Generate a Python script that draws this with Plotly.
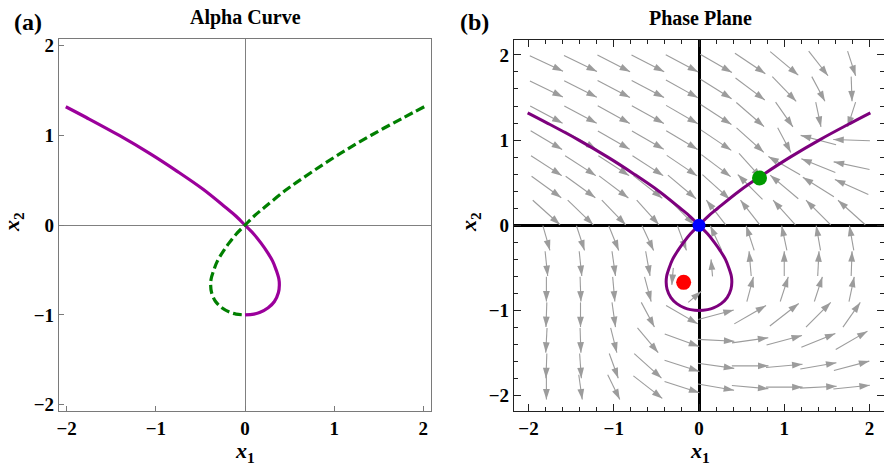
import math
import plotly.graph_objects as go

W, H = 884, 470

# ---------------- data ----------------
# alpha curve: x2 samples and the x1 value of each branch
curve_x2 = [1.32, 1.2, 1.0, 0.8, 0.6, 0.4, 0.2, 0.1, 0.0, -0.1, -0.2, -0.3, -0.4,
            -0.5, -0.6, -0.67, -0.75, -0.85, -0.92, -0.97, -0.99, -1.0]
purple_x1 = [-2.01, -1.78, -1.41, -1.07, -0.76, -0.47, -0.22, -0.1, 0.0, 0.1, 0.18,
             0.25, 0.31, 0.35, 0.38, 0.385, 0.375, 0.33, 0.26, 0.17, 0.1, 0.0]
green_x1 = [2.01, 1.78, 1.41, 1.07, 0.76, 0.47, 0.22, 0.1, 0.0, -0.1, -0.18,
            -0.25, -0.31, -0.35, -0.38, -0.385, -0.375, -0.33, -0.26, -0.17, -0.1, 0.0]

# equilibrium points in the phase plane
eq_x1 = [0.0, 0.71, -0.18]
eq_x2 = [0.0, 0.555, -0.67]
eq_colors = ["#0000ff", "#009a00", "#ff0000"]
eq_sizes = [13, 15, 15]

# stream arrows: sample grid and flow direction (degrees) read at each node
stream_cols = [-1.79, -1.39, -1.0, -0.6, -0.2, 0.2, 0.6, 1.0, 1.4, 1.79]
stream_rows = [1.9, 1.6, 1.3, 1.0, 0.7, 0.45, 0.15, -0.15, -0.45, -0.75, -1.05, -1.35, -1.65, -1.9]
stream_angle = [
    [-25, -26, -27, -27, -28, -30, -34, -40, -52, -72],
    [-26, -27, -28, -28, -29, -32, -37, -46, -62, -88],
    [-28, -28, -29, -29, -30, -33, -41, -55, -78, -108],
    [-31, -30, -30, -30, -31, -34, -42, -62, 165, 178],
    [-33, -33, -33, -33, -34, -37, -48, 150, 158, 168],
    [-36, -36, -37, -38, -40, -42, 135, 140, 148, 156],
    [-42, -44, -46, -48, -45, 128, 128, 132, 135, 138],
    [-74, -72, -68, -65, -70, 115, 108, 102, 100, 100],
    [-84, -84, -82, -80, None, None, 95, 90, 87, 88],
    [-90, -88, -85, -75, None, None, 75, 72, 72, 78],
    [-92, -90, -82, -62, -30, 15, 30, 38, 45, 55],
    [-93, -88, -76, -50, -20, -3, 8, 15, 22, 30],
    [-92, -86, -70, -42, -18, -8, 0, 5, 10, 15],
    [-90, -82, -64, -38, -18, -10, -5, 0, 3, 6],
]
# arrows circling the focus inside the loop
spiral_x1 = [0.15, -0.31, -0.05]
spiral_x2 = [-0.5, -0.6, -0.84]
spiral_angle = [95, -95, 40]

tick_vals = [-2, -1, 0, 1, 2]

# ---------------- helpers ----------------
FONT = "Liberation Serif"


def px_x(p):
    return p / W


def px_y(p):
    return 1 - p / H


seg_x, seg_y, hx, hy, hang = [], [], [], [], []


def add_arrow(cx, cy, ang, L):
    t = math.radians(ang)
    dx, dy = math.cos(t), math.sin(t)
    x0, y0 = cx - dx * L / 2, cy - dy * L / 2
    x1, y1 = cx + dx * L / 2, cy + dy * L / 2
    seg_x.extend([x0, x1, None])
    seg_y.extend([y0, y1, None])
    hx.append(x1)
    hy.append(y1)
    hang.append(90 - ang)


for r, yv in enumerate(stream_rows):
    for c, xv in enumerate(stream_cols):
        a = stream_angle[r][c]
        if a is None:
            continue
        t = math.radians(a)
        L = min(0.43, 0.43 / max(abs(math.cos(t)), 1e-6), 0.29 / max(abs(math.sin(t)), 1e-6))
        add_arrow(xv, yv, a, L)
for xv, yv, a in zip(spiral_x1, spiral_x2, spiral_angle):
    add_arrow(xv, yv, a, 0.2)

fig = go.Figure()

# ---- panel (a) ----
fig.add_trace(go.Scatter(x=purple_x1, y=curve_x2, mode="lines", line=dict(color="#9b009b", width=3.2, shape="spline"),
                         xaxis="x", yaxis="y", showlegend=False, hoverinfo="skip"))
fig.add_trace(go.Scatter(x=green_x1, y=curve_x2, mode="lines",
                         line=dict(color="#007f00", width=3.2, dash="9px,4px", shape="spline"),
                         xaxis="x", yaxis="y", showlegend=False, hoverinfo="skip"))

# ---- panel (b) ----
fig.add_trace(go.Scatter(x=seg_x, y=seg_y, mode="lines", line=dict(color="#9c9c9c", width=1.1),
                         xaxis="x2", yaxis="y2", showlegend=False, hoverinfo="skip"))
fig.add_trace(go.Scatter(x=hx, y=hy, mode="markers",
                         marker=dict(symbol="arrow", size=11, angle=hang, color="#9c9c9c", line=dict(width=0)),
                         xaxis="x2", yaxis="y2", showlegend=False, hoverinfo="skip"))
loop_x = purple_x1 + green_x1[::-1][1:]
loop_y = curve_x2 + curve_x2[::-1][1:]
fig.add_trace(go.Scatter(x=loop_x, y=loop_y, mode="lines", line=dict(color="#7d007d", width=3, shape="spline"),
                         xaxis="x2", yaxis="y2", showlegend=False, hoverinfo="skip"))
fig.add_trace(go.Scatter(x=eq_x1, y=eq_x2, mode="markers",
                         marker=dict(color=eq_colors, size=eq_sizes, opacity=1, line=dict(width=0)),
                         xaxis="x2", yaxis="y2", showlegend=False, hoverinfo="skip"))

tickfont = dict(family=FONT, size=19, color="black", weight="bold")

fig.update_layout(
    width=W, height=H,
    margin=dict(l=0, r=0, t=0, b=0, autoexpand=False),
    paper_bgcolor="white", plot_bgcolor="white",
    xaxis=dict(domain=[59 / W, 431 / W], range=[-2.086, 2.086], tickvals=tick_vals,
               showline=True, linecolor="#7a7a7a", linewidth=1.2, mirror=True,
               ticks="inside", ticklen=5, tickcolor="#7a7a7a", showgrid=False,
               zeroline=True, zerolinecolor="#808080", zerolinewidth=1.2,
               tickfont=tickfont, anchor="y"),
    yaxis=dict(domain=[59 / H, 431 / H], range=[-2.07, 2.075], tickvals=tick_vals,
               showline=True, linecolor="#7a7a7a", linewidth=1.2, mirror=True,
               ticks="inside", ticklen=5, tickcolor="#7a7a7a", showgrid=False,
               zeroline=True, zerolinecolor="#808080", zerolinewidth=1.2,
               tickfont=tickfont, anchor="x"),
    xaxis2=dict(domain=[514 / W, 1.0], range=[-2.17, 2.17], tickvals=tick_vals,
                showline=True, linecolor="#222222", linewidth=1.2, mirror="allticks",
                ticks="inside", ticklen=7, tickcolor="#222222", showgrid=False,
                minor=dict(dtick=0.2, ticks="inside", ticklen=4, tickcolor="#222222", showgrid=False),
                zeroline=True, zerolinecolor="black", zerolinewidth=2.5,
                tickfont=tickfont, anchor="y2"),
    yaxis2=dict(domain=[59 / H, 430 / H], range=[-2.18, 2.175], tickvals=tick_vals,
                showline=True, linecolor="#222222", linewidth=1.2, mirror="allticks",
                ticks="inside", ticklen=7, tickcolor="#222222", showgrid=False,
                minor=dict(dtick=0.2, ticks="inside", ticklen=4, tickcolor="#222222", showgrid=False),
                zeroline=True, zerolinecolor="black", zerolinewidth=2.5,
                tickfont=tickfont, anchor="x2"),
)

ann = []


def label(text, x, y, size, angle=0):
    ann.append(dict(text=text, x=px_x(x), y=px_y(y), xref="paper", yref="paper",
                    xanchor="center", yanchor="middle", showarrow=False, textangle=angle,
                    font=dict(family=FONT, size=size, color="black")))


label("<b>(a)</b>", 28, 22, 24)
label("<b>(b)</b>", 474, 22, 24)
label("<b>Alpha Curve</b>", 245, 18, 20)
label("<b>Phase Plane</b>", 700, 18, 20)
label("<b><i>x</i><sub>1</sub></b>", 245, 452, 22)
label("<b><i>x</i><sub>1</sub></b>", 700, 452, 22)
label("<b><i>x</i><sub>2</sub></b>", 13, 222, 22, -90)
label("<b><i>x</i><sub>2</sub></b>", 470, 222, 22, -90)
fig.update_layout(annotations=ann)

fig.write_html("out.html", config={"displayModeBar": False},
               post_script="document.body.style.margin='0';document.body.style.overflow='hidden';")
